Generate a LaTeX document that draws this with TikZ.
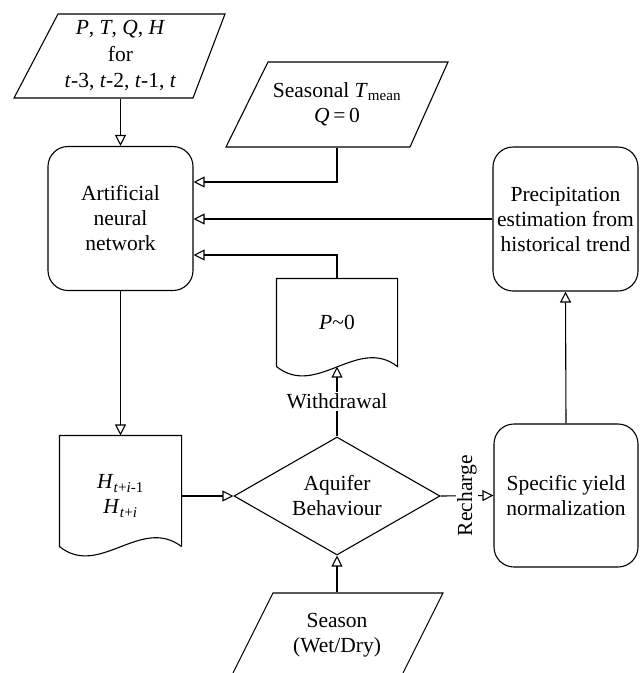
\documentclass[tikz,border=0pt]{standalone}
\usepackage{fontspec}
\setmainfont{Liberation Serif}
\usetikzlibrary{arrows.meta,shapes.geometric,calc}
\begin{document}
\begin{tikzpicture}[x=1pt,y=-1pt, line width=1.1pt,
  every node/.style={font=\fontsize{21.5}{25}\selectfont, align=center},
  arr/.style={-{Triangle[open,length=11pt,width=11pt]}},
  proc/.style={draw, rectangle, rounded corners=20pt, minimum width=145pt, minimum height=144pt, inner sep=0pt},
  box/.style={rectangle, inner sep=0pt},
  lbl/.style={fill=white, inner sep=1.5pt}]
\useasboundingbox (0,0) rectangle (643,673);

% inputs
\node[box, minimum width=120pt, minimum height=84pt] (inp) at (120.5,56)
  {\textit{P}, \textit{T}, \textit{Q}, \textit{H}\\[1.5pt] for\\[1.5pt] \textit{t}-3, \textit{t}-2, \textit{t}-1, \textit{t}};
\draw (58,14) -- (225,14) -- (193,98) -- (14,98) -- cycle;

\node[proc] (ann) at (120.5,218.5) {Artificial\\ neural\\ network};

% seasonal
\node[box, minimum width=150pt, minimum height=85pt] (seas) at (337,104.5)
  {Seasonal \textit{T}\textsubscript{mean}\\ \textit{Q}\,=\,0};
\draw (268,62) -- (448,62) -- (410,147) -- (226,147) -- cycle;

\node[proc] (prec) at (565.5,219) {Precipitation\\ estimation from\\ historical trend};

% P~0 document
\node[box, minimum width=120pt, minimum height=87pt] (pdoc) at (337,322.5) {\textit{P}\textasciitilde 0};
\draw (pdoc.north east) -- (pdoc.north west) -- (pdoc.south west)
  .. controls +(40,32) and +(-40,-31) .. (pdoc.south east) -- cycle;

% H document
\node[box, minimum width=121pt, minimum height=120pt] (hdoc) at (120.5,496)
  {\textit{H}\textsubscript{\textit{t}+\textit{i}-1}\\ \textit{H}\textsubscript{\textit{t}+\textit{i}}};
\draw ($(hdoc.south east)+(0,-10)$) -- (hdoc.north east) -- (hdoc.north west) -- ($(hdoc.south west)+(0,-10)$)
  .. controls +(40,32) and +(-41,-31) .. ($(hdoc.south east)+(0,-10)$);

% decision
\node[draw, diamond, aspect=1.746, minimum width=206pt, minimum height=118pt, inner sep=0pt] (dia) at (337,496) {Aquifer\\ Behaviour};

% season
\node[box, minimum width=130pt, minimum height=84pt] (sea) at (337,635) {Season\\ (Wet/Dry)};
\draw (233,673) -- (273,593) -- (443,593) -- (403,673);

\node[proc, minimum width=144pt, minimum height=143pt] (spec) at (566,495.5) {Specific yield\\ normalization};

% connectors
\draw[arr] (inp.south) -- (ann.north);
\draw[arr] (seas.south) |- ([yshift=36.5pt]ann.east);
\draw[arr] (prec.west) -- (prec.west -| ann.east);
\draw[arr] (pdoc.north) |- ([yshift=-36.5pt]ann.east);
\draw[arr] (ann.south) -- (hdoc.north);
\draw[arr] (hdoc.east) -- (dia.west);
\draw[arr] (dia.north) -- node[lbl]{Withdrawal} (pdoc.south);
\draw[arr] (sea.north) -- (dia.south);
\draw[arr] (dia.east) -- node[lbl, rotate=90]{Recharge} (spec.west);
\draw[arr] (spec.north) -- (prec.south);
\end{tikzpicture}
\end{document}
